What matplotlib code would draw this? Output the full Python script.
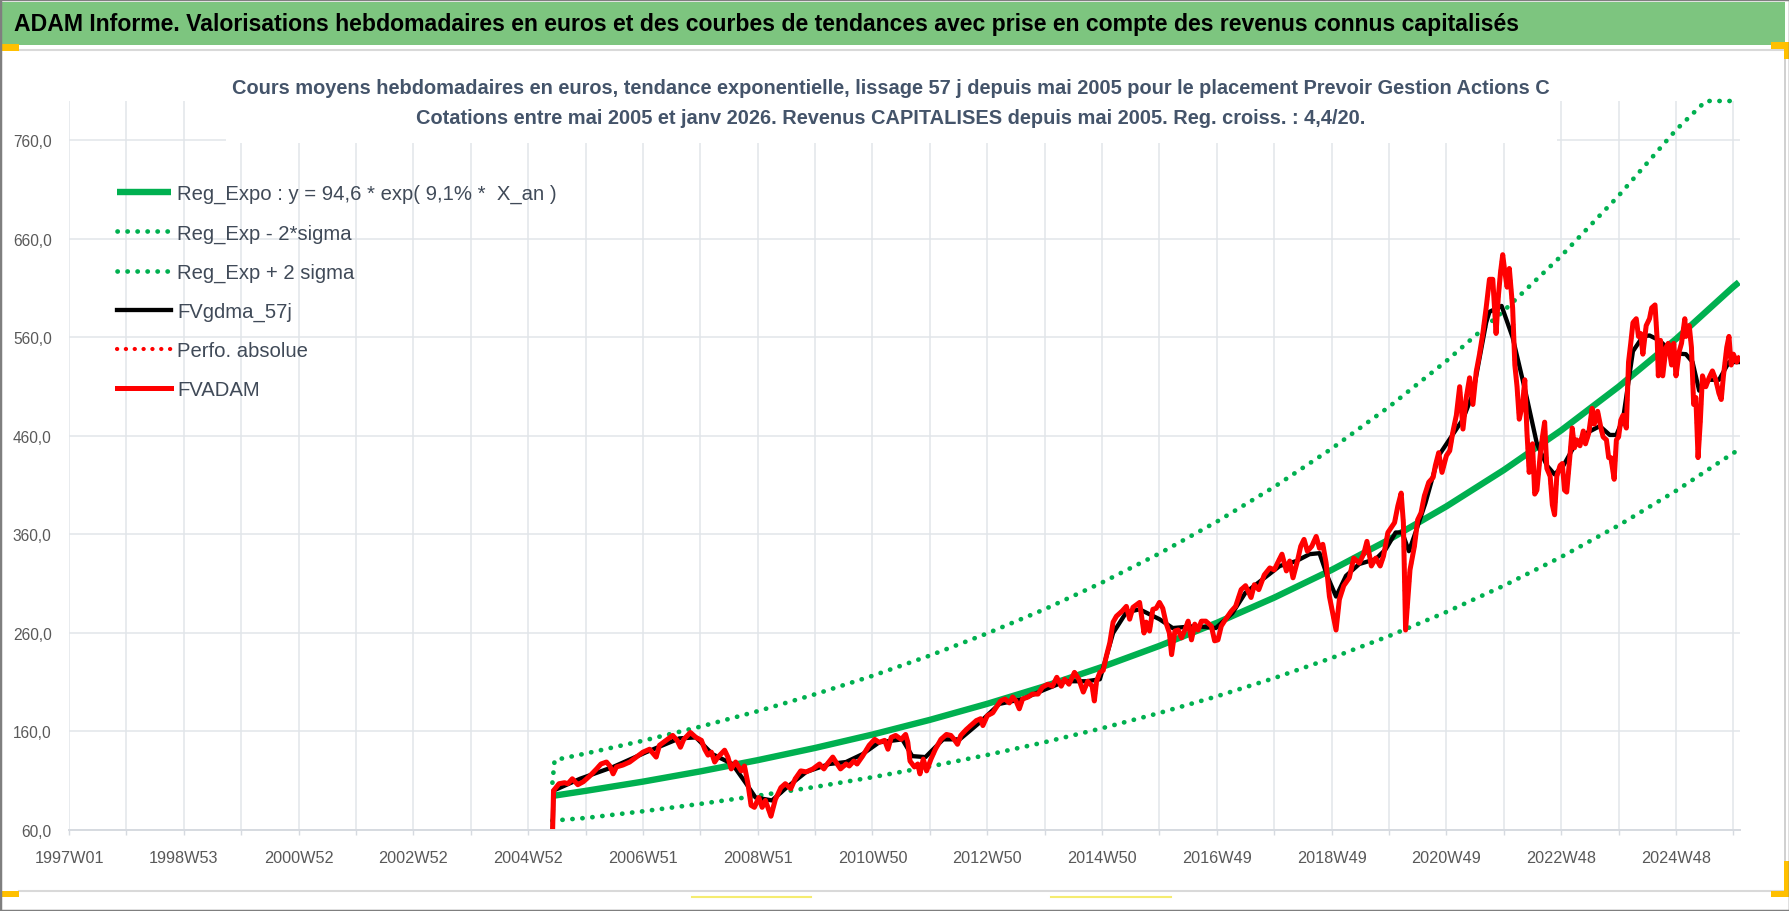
import matplotlib
matplotlib.use("Agg")
import matplotlib.pyplot as plt
from matplotlib.patches import Rectangle
from matplotlib.lines import Line2D
import numpy as np

plt.rcParams['font.family'] = ['Liberation Sans', 'DejaVu Sans']

# categories = one per week since 1997W01
x_labels = ["1997W01", "1998W53", "2000W52", "2002W52", "2004W52", "2006W51",
            "2008W51", "2010W50", "2012W50", "2014W50", "2016W49", "2018W49",
            "2020W49", "2022W48", "2024W48"]
n_weeks = 1514
y_ticks = [60, 160, 260, 360, 460, 560, 660, 760]
y_tick_labels = ["60,0", "160,0", "260,0", "360,0", "460,0", "560,0", "660,0", "760,0"]

# trend lines, read at yearly gridlines
trend_week = [438, 468, 520, 572, 624, 676, 728, 780, 832, 884, 936, 988, 1040,
              1092, 1144, 1196, 1248, 1300, 1352, 1404, 1456, 1508, 1513]
reg_expo = [94.6, 99.7, 109.1, 119.5, 130.9, 143.3, 156.9, 171.8, 188.1, 205.9,
            225.5, 246.9, 270.3, 295.9, 324.0, 354.8, 388.5, 425.4, 465.7, 510.0,
            558.4, 611.4, 616.0]
reg_low = [69.5, 72.2, 79.0, 86.5, 94.8, 103.7, 113.6, 124.4, 136.2, 149.1, 163.3,
           178.8, 195.7, 214.2, 234.6, 256.9, 281.3, 308.0, 337.2, 369.2, 404.3,
           442.7, 446.0]
up_week = [438, 440, 468, 520, 572, 624, 676, 728, 780, 832, 884, 936, 988, 1040,
           1092, 1144, 1196, 1248, 1300, 1352, 1404, 1456, 1483, 1508, 1513]
reg_up = [108, 131, 137.6, 150.6, 164.9, 180.6, 197.8, 216.5, 237.1, 259.6, 284.1,
          311.2, 340.7, 373.0, 408.3, 447.1, 489.6, 536.1, 587.1, 642.7, 703.8,
          770.6, 800, 800, 800]

# FVADAM weekly values
red_week = [
    437, 439, 444, 449, 452, 456, 461, 466, 472, 478, 482, 487, 490, 493, 496,
    502, 508, 514, 520, 526, 529, 532, 535, 541, 547, 551, 554, 557, 563, 568,
    573, 576, 579, 582, 585, 588, 594, 597, 600, 604, 609, 612, 615, 618, 621,
    625, 628, 631, 636, 640, 645, 649, 654, 658, 663, 668, 674, 680, 684, 687,
    692, 696, 699, 704,
    707, 711, 714, 719, 725, 730, 734, 739, 742, 745, 749, 754, 758, 760, 762,
    766, 769, 771, 774, 777, 781, 785, 790, 795, 799, 802, 805, 808, 813, 817,
    822, 826, 828, 832, 837, 841, 844, 848, 852, 855, 858, 861, 864, 869, 873,
    878, 882, 887, 891, 895, 899, 902, 906, 911, 915, 919, 923, 927, 929, 931,
    934, 937, 940, 943, 946, 949, 954, 958, 961, 964, 970, 974, 976,
    979, 982, 985, 988, 991, 994, 997, 999, 1002, 1005, 1008, 1011, 1014, 1017, 1020,
    1023, 1026, 1030, 1035, 1038, 1041, 1044, 1048, 1053, 1057, 1062, 1066, 1071, 1074, 1078,
    1083, 1088, 1092, 1095, 1099, 1103, 1106, 1109, 1113, 1116, 1119, 1122, 1126, 1130, 1133,
    1136, 1139, 1142, 1145, 1148, 1151, 1155, 1160, 1164, 1169, 1173, 1176, 1180, 1184, 1188,
    1191, 1195, 1201, 1204, 1207, 1209, 1211, 1215, 1219, 1222, 1225, 1228, 1232, 1236, 1238,
    1241, 1244, 1248,
    1251, 1254, 1257, 1260, 1263, 1266, 1269, 1272, 1275, 1278, 1281, 1284, 1287, 1290, 1293,
    1295, 1297, 1299, 1301, 1303, 1305, 1308, 1310, 1312, 1314, 1317, 1319, 1321, 1323, 1326,
    1328, 1330, 1333, 1335, 1337, 1339, 1342, 1344, 1346, 1348, 1351, 1353, 1355, 1357, 1360,
    1362, 1364, 1366, 1369, 1372, 1374, 1377, 1380, 1382, 1385, 1388, 1390, 1393, 1395, 1397,
    1400, 1402, 1404, 1406, 1408, 1411, 1413, 1415, 1417, 1420, 1422, 1424, 1426, 1429, 1432,
    1434, 1437, 1439, 1440, 1442, 1444, 1447, 1449, 1452, 1454, 1456, 1459, 1461, 1464, 1465,
    1468, 1470, 1472, 1474, 1476, 1478, 1480, 1483, 1486, 1489, 1492, 1495, 1497, 1499, 1502,
    1504, 1506, 1508, 1511, 1513]
red_val = [
    0, 100, 107, 108, 107, 112, 106, 109, 115, 122, 127, 129, 125, 117, 124,
    126, 129, 134, 139, 142, 138, 134, 146, 151, 156, 151, 144, 152, 159, 154,
    151, 142, 136, 139, 129, 134, 141, 134, 122, 129, 120, 125, 108, 85, 83,
    93, 83, 90, 74, 91, 103, 107, 102, 112, 120, 119, 122, 127, 122, 127,
    134, 127, 122, 127,
    125, 130, 127, 135, 146, 152, 149, 151, 142, 154, 156, 152, 157, 149, 130,
    124, 127, 117, 132, 120, 132, 142, 152, 157, 156, 152, 147, 156, 162, 166,
    171, 173, 166, 176, 179, 186, 191, 193, 189, 195, 191, 183, 193, 195, 198,
    198, 205, 208, 206, 215, 206, 213, 208, 220, 213, 200, 211, 206, 191, 211,
    220, 222, 237, 250, 271, 277, 282, 287, 274, 286, 291, 260, 271,
    262, 284, 285, 291, 285, 270, 260, 238, 262, 263, 255, 263, 272, 253, 269,
    263, 272, 272, 267, 252, 253, 267, 274, 282, 287, 304, 308, 296, 309, 304,
    319, 326, 324, 331, 340, 323, 333, 316, 333, 348, 355, 343, 348, 358, 346,
    350, 331, 297, 280, 263, 294, 308, 316, 336, 331, 340, 353, 328, 336, 328,
    338, 362, 372, 389, 402, 372, 263, 324, 348, 375, 382, 399, 413, 418, 430,
    443, 423, 440,
    445, 465, 481, 510, 467, 499, 519, 492, 525, 543, 564, 590, 619, 619, 564,
    601, 626, 644, 626, 611, 630, 590, 532, 510, 477, 492, 517, 463, 423, 452,
    401, 405, 441, 459, 474, 427, 419, 390, 380, 419, 430, 432, 405, 403, 441,
    468, 448, 456, 450, 465, 452, 463, 488, 472, 485, 468, 459, 456, 438, 438,
    416, 456, 459, 476, 481, 468, 535, 554, 575, 579, 561, 564, 543, 572, 579,
    590, 593, 557, 521, 557, 521, 550, 554, 532, 554, 521, 546, 554, 579, 561,
    572, 550, 492, 499, 438, 474, 521, 510, 519, 526, 517, 503, 497, 521, 550,
    561, 532, 543, 535, 539]

# FVgdma_57j smoothed values
black_week = [
    437, 439, 463, 493, 523, 553, 568, 583, 601, 613, 622, 637, 649, 668, 689,
    704, 719, 734, 755, 764, 776, 792, 807, 825, 843, 864, 885, 903, 922, 934, 946, 958, 970,
    988, 1000, 1021, 1039, 1054, 1066, 1081, 1097, 1112, 1124, 1133, 1140, 1148, 1157,
    1169, 1184, 1193, 1202, 1208, 1214, 1220, 1229, 1241,
    1263, 1272, 1278, 1284, 1287, 1298, 1308, 1320, 1330, 1339, 1346, 1354, 1363, 1375,
    1387, 1396, 1402, 1408, 1417, 1426, 1432, 1441, 1453, 1465, 1471, 1477, 1486, 1495,
    1504, 1513]
black_val = [
    0, 100, 112, 124, 139, 153, 154, 137, 127, 108, 93, 90, 102, 119, 127,
    129, 137, 149, 152, 135, 134, 152, 152, 169, 188, 193, 203, 211, 211, 213, 260, 281, 284,
    274, 265, 267, 265, 280, 301, 314, 328, 333, 340, 341, 318, 297, 318,
    330, 335, 345, 362, 362, 343, 362, 392, 440,
    477, 503, 539, 575, 586, 592, 560, 503, 452, 430, 421, 430, 448, 463,
    470, 461, 461, 477, 546, 561, 562, 557, 544, 543, 535, 506, 517, 517,
    535, 535]

title = ("ADAM Informe. Valorisations hebdomadaires en euros et des courbes de "
         "tendances avec prise en compte des revenus connus capitalisés")
sub1 = ("Cours moyens hebdomadaires en euros, tendance exponentielle, lissage 57 j "
        "depuis mai 2005 pour le placement Prevoir Gestion Actions C")
sub2 = ("Cotations entre mai 2005 et janv 2026. Revenus CAPITALISES depuis mai 2005. "
        "Reg. croiss. : 4,4/20.")

W, H = 1790, 912
def fx(px):
    return px / W
def fy(py):
    return 1 - py / H

fig = plt.figure(figsize=(W / 100, H / 100), dpi=100)
ax = fig.add_axes([fx(69), fy(831), fx(1740) - fx(69), fy(102) - fy(831)])

green = '#00B050'
dots = (0, (0.05, 2.07))
ax.plot(trend_week, reg_expo, color=green, lw=4.6, solid_capstyle='butt',
        label="Reg_Expo : y = 94,6 * exp( 9,1% *  X_an )")
ax.plot(trend_week, reg_low, color=green, lw=3.4, linestyle=dots,
        dash_capstyle='round', clip_on=False, label="Reg_Exp - 2*sigma")
ax.plot(up_week, reg_up, color=green, lw=3.4, linestyle=dots,
        dash_capstyle='round', clip_on=False, label="Reg_Exp + 2 sigma")
ax.plot(black_week, black_val, color='black', lw=3.1, solid_joinstyle='round',
        label="FVgdma_57j")
ax.plot(red_week, red_val, color='red', lw=3.0, linestyle=dots,
        dash_capstyle='round', label="Perfo. absolue")
ax.plot(red_week, red_val, color='red', lw=3.6, solid_joinstyle='round',
        label="FVADAM")

ax.set_xlim(0, n_weeks)
ax.set_ylim(60, 800)
ax.set_xticks(np.arange(len(x_labels)) * 104)
ax.set_xticklabels(x_labels)
ax.set_xticks(np.arange(52, n_weeks, 104), minor=True)
ax.set_yticks(y_ticks)
ax.set_yticklabels(y_tick_labels)

grid_c = '#E1E5EA'
ax.set_axisbelow(True)
ax.grid(True, axis='x', which='both', color=grid_c, lw=1.1)
ax.grid(True, axis='y', which='major', color=grid_c, lw=1.1)
for s in ['top', 'right', 'left']:
    ax.spines[s].set_visible(False)
ax.spines['bottom'].set_color('#D6DAE0')
ax.spines['bottom'].set_linewidth(1.4)
ax.tick_params(axis='x', which='both', length=3.6, width=1, color='#D6DAE0',
               pad=11, labelsize=11.7, labelcolor='#595959')
ax.tick_params(axis='y', length=0, pad=12.5, labelsize=11.2, labelcolor='#595959')

ax.legend(loc='upper left', bbox_to_anchor=(fx(117), fy(185)),
          bbox_transform=fig.transFigure, frameon=False, fontsize=14.6,
          handlelength=2.66, handletextpad=0.3, labelspacing=0.99,
          borderpad=0, borderaxespad=0, labelcolor='#404A58')

# white box behind the chart titles
fig.add_artist(Rectangle((fx(226), fy(144)), fx(1557) - fx(226), fy(101) - fy(144),
                         transform=fig.transFigure, facecolor='white',
                         edgecolor='none', zorder=1))
fig.text(fx(891), fy(89), sub1, ha='center', va='center', fontsize=14.4,
         weight='bold', color='#44546A', zorder=2)
fig.text(fx(891), fy(118), sub2, ha='center', va='center', fontsize=14.4,
         weight='bold', color='#44546A', zorder=2)

# green title band
fig.add_artist(Rectangle((0, fy(46)), fx(1785), fy(3) - fy(46),
                         transform=fig.transFigure, facecolor='#7DC57F',
                         edgecolor='none', zorder=1))
fig.text(fx(14), fy(25), title, ha='left', va='center', fontsize=16.6,
         weight='bold', color='black', zorder=2)

# sheet decorations
for yy in [51, 892]:
    fig.add_artist(Line2D([fx(19), fx(1785)], [fy(yy), fy(yy)], color='#D9D9D9',
                          lw=1.5, transform=fig.transFigure, zorder=1))
fig.add_artist(Line2D([fx(1785), fx(1785)], [fy(51), fy(892)], color='#C8C8C8',
                      lw=1.2, transform=fig.transFigure, zorder=1))
for x0, x1 in [(692, 811), (1051, 1171)]:
    fig.add_artist(Line2D([fx(x0), fx(x1)], [fy(898), fy(898)], color='#F5EC70',
                          lw=1.5, transform=fig.transFigure, zorder=1))
orange = '#FFC000'
for (x0, y0, x1, y1) in [(0, 45, 19, 52), (1771, 43, 1790, 50), (1784, 43, 1790, 60),
                         (0, 892, 19, 898), (1784, 862, 1790, 898), (1771, 892, 1790, 898)]:
    fig.add_artist(Rectangle((fx(x0), fy(y1)), fx(x1) - fx(x0), fy(y0) - fy(y1),
                             transform=fig.transFigure, facecolor=orange,
                             edgecolor='none', zorder=3))
fig.add_artist(Rectangle((0, 0), 1, 1, transform=fig.transFigure, fill=False,
                         edgecolor='#7F7F7F', lw=2.5, zorder=4))

fig.savefig('out.png', dpi=100, facecolor='white')
